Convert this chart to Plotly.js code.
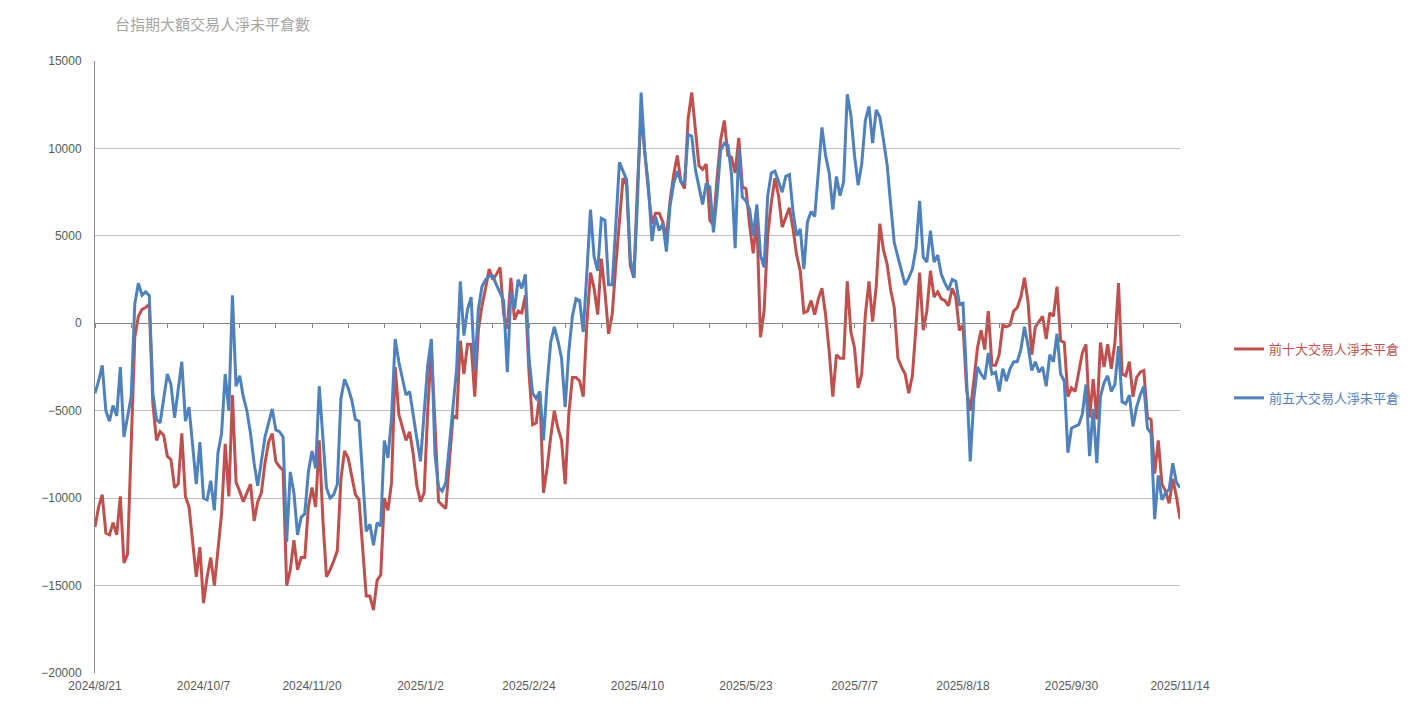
<!DOCTYPE html>
<html>
<head>
<meta charset="utf-8">
<script src="https://cdn.plot.ly/plotly-3.0.1.min.js"></script>
<style>html,body{margin:0;padding:0;background:#fff;}#chart{width:1415px;height:711px;}</style>
</head>
<body>
<div id="chart"></div>
<script>
// Tick labels (one every 30 trading days)
const TICK_LABELS = ["2024/8/21","2024/10/7","2024/11/20","2025/1/2","2025/2/24","2025/4/10","2025/5/23","2025/7/7","2025/8/18","2025/9/30","2025/11/14"];

const SERIES_NAMES = ["前十大交易人淨未平倉", "前五大交易人淨未平倉"];

// 前十大交易人淨未平倉 (red)
const top10 = [
-11650,-10500,-9800,-12000,-12100,-11400,-12100,-9900,-13700,-13200,
-7000,-800,400,800,900,1100,-4600,-6700,-6200,-6400,
-7600,-7800,-9400,-9200,-6300,-9900,-10500,-12500,-14500,-12800,
-16000,-14500,-13400,-15000,-13000,-10900,-6900,-9900,-4100,-9100,
-9600,-10200,-9700,-9200,-11300,-10200,-9700,-8000,-6800,-6300,
-7900,-8200,-8400,-15000,-14100,-12400,-14100,-13400,-13400,-10500,
-9400,-10500,-6700,-11200,-14500,-14100,-13600,-13000,-8900,-7300,
-7700,-8700,-9800,-10100,-12900,-15600,-15600,-16400,-14700,-14400,
-10000,-10700,-9100,-2500,-5200,-6000,-6700,-6200,-7500,-9300,
-10200,-9700,-5000,-1300,-5800,-10200,-10400,-10600,-7900,-5300,
-5400,-1000,-2900,-1200,-1200,-4200,-400,1000,2000,3100,
2500,2800,3200,500,-300,2600,200,700,600,1600,
-2800,-5800,-5700,-4000,-9700,-8300,-6500,-5000,-6000,-6700,
-9200,-5200,-3100,-3100,-3300,-4200,0,2900,2000,500,
3700,1800,-600,500,3300,5800,8300,7900,3300,2600,
7900,12000,9600,7600,5700,6300,6300,5800,4900,7000,
8500,9600,8100,7700,11700,13200,11100,9000,8800,9100,
5900,5600,8300,10500,11600,9600,9500,8600,10600,7800,
7700,5600,4000,6000,-800,700,5000,6900,8300,7300,
5500,6100,6600,5400,3900,3000,600,700,1300,500,
1400,2000,500,-1600,-4200,-1800,-2000,-2000,2400,-500,
-1400,-3700,-2900,500,2400,100,2100,5700,4200,3400,
1900,900,-2000,-2500,-2900,-4000,-3000,-200,2900,-400,
700,3000,1500,1800,1400,1300,1000,2000,1500,-400,
-100,-3800,-5000,-3300,-1400,-400,-1500,700,-2400,-2400,
-1800,-100,-200,-100,700,900,1500,2600,1200,-1800,
-200,100,400,-900,600,400,2100,-1000,-1100,-4200,
-3700,-3900,-2900,-1700,-1200,-5400,-3200,-5500,-1100,-2500,
-1200,-2600,-1100,2300,-2900,-3000,-2200,-4200,-3100,-2800,
-2700,-5400,-5500,-8600,-6700,-9200,-9600,-10300,-8900,-9900,
-11200
];

// 前五大交易人淨未平倉 (blue)
const top5 = [
-4000,-3300,-2400,-5000,-5600,-4700,-5300,-2500,-6500,-5400,
-4200,1100,2300,1600,1800,1600,-4000,-5500,-5700,-4300,
-2900,-3500,-5400,-3800,-2200,-5600,-4800,-7000,-9200,-6800,
-10000,-10100,-9000,-10700,-7400,-6300,-2900,-5000,1600,-3600,
-3000,-4200,-5000,-6300,-8000,-9300,-8000,-6500,-5700,-4900,
-6100,-6200,-6500,-12500,-8500,-9700,-12100,-11100,-10900,-8500,
-7300,-8300,-3600,-6400,-9400,-10000,-9800,-9200,-4300,-3200,
-3700,-4400,-5500,-5600,-8500,-11900,-11500,-12700,-11400,-11600,
-6700,-7700,-5400,-900,-2200,-3100,-4100,-3900,-5400,-6600,
-7900,-5000,-2400,-900,-7500,-9400,-9600,-9100,-7000,-5000,
-2600,2400,-700,800,1500,-2700,800,2100,2500,2700,
2700,2200,1700,1300,-2800,1800,800,2500,2000,2800,
-2000,-4000,-4300,-3900,-6700,-3500,-1100,-200,-1000,-2000,
-4800,-1600,400,1400,1300,-500,2900,6500,3800,3000,
6000,5900,2200,2200,5600,9200,8700,8200,3700,2600,
7000,13200,9800,7900,4700,6100,5300,5700,4100,6700,
8000,8700,8100,8000,10800,10700,8800,7700,6800,8000,
7800,5200,7300,9900,10300,10200,8500,4300,10000,7200,
7000,6500,5000,6800,3900,3200,7300,8600,8700,8100,
7500,8400,8500,6400,5000,5400,3100,5800,6400,6100,
8500,11200,9600,8600,6500,8400,7300,8100,13100,11900,
9600,7900,9100,11600,12400,10300,12200,11800,10500,9100,
6800,4600,3800,3000,2200,2600,3100,4300,7000,3800,
3500,5300,3500,3900,2800,2300,1900,2500,2400,1100,
1150,-3200,-7900,-4300,-2500,-2900,-3200,-1700,-2900,-2800,
-3900,-2600,-3300,-2600,-2200,-2200,-1500,-200,-1300,-2700,
-2200,-2800,-2500,-3600,-1800,-2200,-600,-2900,-3300,-7400,
-6000,-5900,-5800,-5200,-3500,-7600,-4900,-8000,-4200,-3400,
-3000,-3900,-3500,-1300,-4500,-4600,-4100,-5900,-4800,-4100,
-3600,-6000,-6300,-11200,-8700,-10100,-9700,-9500,-8000,-9100,
-9400
];

const xIdx = top10.map((_, i) => i);
const labelStep = (top10.length - 1) / (TICK_LABELS.length - 1);
const labelVals = TICK_LABELS.map((_, i) => i * labelStep);
const minorVals = [];
for (let v = 0; v <= top10.length - 1; v += 10) minorVals.push(v);

const RED = '#C0504D', BLUE = '#4F81BD';
const CJK = '"Noto Sans CJK TC", "Noto Sans CJK SC", sans-serif';
const LAT = '"Liberation Sans", Arial, sans-serif';

const traces = [
  {x: xIdx, y: top10, type: 'scatter', mode: 'lines',
   name: '<span style="color:' + RED + '">' + SERIES_NAMES[0] + '</span>',
   line: {color: RED, width: 3}, legendgroup: 'a', hoverinfo: 'skip'},
  {x: xIdx, y: top5, type: 'scatter', mode: 'lines',
   name: '<span style="color:' + BLUE + '">' + SERIES_NAMES[1] + '</span>',
   line: {color: BLUE, width: 3}, legendgroup: 'b', hoverinfo: 'skip'},
  {x: [], y: [], xaxis: 'x2', yaxis: 'y', type: 'scatter', mode: 'lines', showlegend: false, hoverinfo: 'skip'}
];

const yMin = -20000, yMax = 15000;

const layout = {
  width: 1415, height: 711,
  margin: {l: 95, r: 235, t: 61, b: 38, pad: 0, autoexpand: false},
  paper_bgcolor: '#ffffff', plot_bgcolor: '#ffffff',
  showlegend: true,
  title: {text: '台指期大額交易人淨未平倉數', x: 115/1415, xref: 'container', xanchor: 'left',
          y: 1 - 25/711, yref: 'container', yanchor: 'middle',
          font: {family: CJK, size: 15, color: '#a5a5a5'}},
  xaxis: {range: [0, top10.length - 1], tickvals: labelVals, ticktext: TICK_LABELS,
          showgrid: false, zeroline: false, showline: false, ticks: '', automargin: false,
          tickfont: {family: LAT, size: 12, color: '#595959'}, ticklabelstandoff: 4},
  xaxis2: {matches: 'x', overlaying: 'x', anchor: 'free', position: (0 - yMin) / (yMax - yMin),
           side: 'bottom', showline: true, linecolor: '#868686', linewidth: 1, automargin: false,
           ticks: 'outside', ticklen: 4, tickwidth: 1, tickcolor: '#868686',
           tickvals: minorVals, showticklabels: false, showgrid: false, zeroline: false},
  yaxis: {range: [yMin, yMax], dtick: 5000, tick0: 0, tickformat: 'd', showgrid: true, gridcolor: '#bfbfbf', gridwidth: 1,
          zeroline: false, showline: true, linecolor: '#868686', linewidth: 1, ticks: '', automargin: false,
          tickfont: {family: LAT, size: 12, color: '#595959'}, ticklabelstandoff: 10},
  legend: {xref: 'container', yref: 'container', x: 1229/1415, xanchor: 'left', y: 1 - 334/711, yanchor: 'top', tracegroupgap: 29,
           font: {family: CJK, size: 13}, bgcolor: 'rgba(0,0,0,0)', itemwidth: 30}
};

Plotly.newPlot('chart', traces, layout, {staticPlot: true, displayModeBar: false});
</script>
</body>
</html>
